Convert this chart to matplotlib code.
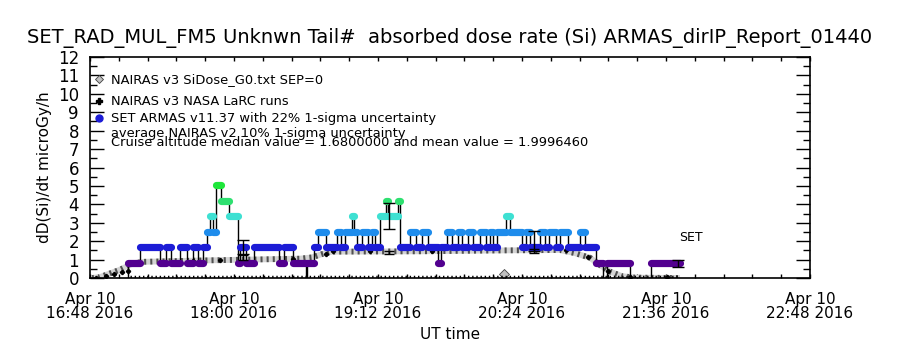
import numpy as np
import pandas as pd
import matplotlib
matplotlib.use("Agg")
import matplotlib.pyplot as plt
import matplotlib.dates as mdates

plt.rcParams['font.family'] = ['DejaVu Sans']

# flight start reference, all times below are minutes after 16:48 UT
t_ref = pd.Timestamp("2016-04-10 16:48")

# SET ARMAS dose rate, step series (edges in minutes, dose per step in microGy/h)
armas_edges = [18.5, 19, 25, 35, 38, 40.5, 45, 48.5, 51.5, 54, 56.5, 58.5, 60, 61.5, 63, 65.5,
               69.5, 74, 75, 78, 82, 94.5, 97, 101.5, 108, 108.5, 112, 114, 118, 123.5, 125.5,
               127.5, 131, 132, 133.5, 136, 139, 141, 142.5, 145, 148, 149, 154, 155, 160, 163,
               166, 169, 174, 175.5, 178.5, 181, 184, 186, 189, 191.5, 195, 198, 200, 201.5,
               203.5, 208, 210, 216, 218, 220, 225, 227.5, 229.5, 233, 235, 239, 245, 247.5,
               253, 256.5, 258.5, 270, 280.5, 295]
armas_dose = [0.0, 0.84, 1.68, 0.84, 1.68, 0.84, 1.68, 0.84, 1.68, 0.84, 1.68, 2.52, 3.36, 2.52,
              5.04, 4.2, 3.36, 0.84, 1.68, 0.84, 1.68, 0.84, 1.68, 0.84, 0.0, 0.84, 1.68, 2.52,
              1.68, 2.52, 1.68, 2.52, 3.36, 2.52, 1.68, 2.52, 1.68, 2.52, 1.68, 3.36, 4.2, 3.36,
              4.2, 1.68, 2.52, 1.68, 2.52, 1.68, 0.84, 1.68, 2.52, 1.68, 2.52, 1.68, 2.52, 1.68,
              2.52, 1.68, 2.52, 1.68, 2.52, 3.36, 2.52, 1.68, 2.52, 1.68, 2.52, 1.68, 2.52, 1.68,
              2.52, 1.68, 2.52, 1.68, 0.84, 0.0, 0.84, 0.0, 0.84]

# ARMAS 22% uncertainty bars
armas_err_t = [76.5, 149.5, 222, 294]
armas_err_lo = [1.3, 2.65, 1.45, 0.62]
armas_err_hi = [2.07, 4.1, 2.55, 1.0]

# NAIRAS v3 SiDose_G0 (SEP=0)
g0_t = [1, 5, 10, 15, 21.5, 27, 35, 55, 80, 105, 111, 116, 121, 165, 207.5, 235, 242.5, 250,
        255, 260, 266, 272.5, 295]
g0_v = [0.0, 0.05, 0.25, 0.45, 0.8, 0.88, 0.9, 0.95, 1.0, 1.05, 1.12, 1.3, 1.43, 1.45, 1.5,
        1.52, 1.35, 1.1, 0.7, 0.35, 0.1, 0.02, 0.0]
g0_out_t = [207]
g0_out_v = [0.2]

# NAIRAS v3 NASA LaRC runs
larc_t = [3, 8, 12, 16, 19, 42.5, 51.5, 65, 101.5, 118, 121.5, 140, 171, 238, 249, 259, 270, 288.5]
larc_v = [0.02, 0.12, 0.22, 0.32, 0.4, 0.88, 0.9, 0.97, 1.03, 1.28, 1.45, 1.45, 1.47, 1.5, 1.15,
          0.4, 0.05, 0.05]

# NAIRAS 10% uncertainty bars
nairas_err_t = [76.5, 149.5, 222]
nairas_err_lo = [0.98, 1.3, 1.35]
nairas_err_hi = [1.25, 1.45, 1.6]

# near-zero row along the flight
zero_t = [20, 295]
zero_v = [0.04, 0.04]

level_colors = {0.84: '#52008f', 1.68: '#1c1cd6', 2.52: '#1e8cec', 3.36: '#3ee0d2',
                4.2: '#2ee070', 5.04: '#1ee63a'}


def tm(mins):
    return [t_ref + pd.Timedelta(minutes=float(m)) for m in mins]


fig = plt.figure(figsize=(9, 3.5), dpi=100)
ax = fig.add_axes([0.1, 0.2057, 0.8, 0.6314])

# NAIRAS G0: checkered grey band
ax.plot(tm(g0_t), g0_v, color='#d4d4d4', lw=4.2, zorder=2, solid_capstyle='butt')
ax.plot(tm(g0_t), g0_v, color='#505050', lw=4.2, ls=(0, (0.35, 0.7)), zorder=2)
ax.plot(tm(g0_out_t), g0_out_v, ls='none', marker='D', ms=5, mfc='#c0c0c0', mec='#404040', mew=0.6)

# LaRC markers
ax.plot(tm(larc_t), larc_v, ls='none', marker='P', ms=2.8, color='black', zorder=3)

# dotted row near zero
ax.plot(tm(zero_t), zero_v, color='black', lw=2.5, ls=(0, (0.4, 0.8)), zorder=2)

# ARMAS black connecting line
xs = tm(np.repeat(armas_edges, 2)[1:-1])
ys = np.repeat(armas_dose, 2)
ax.plot(xs, ys, color='black', lw=1, zorder=3)

# ARMAS coloured points
for i, d in enumerate(armas_dose):
    if d <= 0:
        continue
    ax.plot(tm([armas_edges[i], armas_edges[i + 1]]), [d, d],
            color=level_colors[d], lw=5.2, solid_capstyle='round', zorder=4)

# uncertainty bars
for t, lo, hi in zip(armas_err_t, armas_err_lo, armas_err_hi):
    tt = tm([t])[0]
    ax.vlines(tt, lo, hi, color='black', lw=1, zorder=5)
    ax.plot([tt, tt], [lo, hi], ls='none', marker='_', ms=9, mew=1, color='black', zorder=5)
for t, lo, hi in zip(nairas_err_t, nairas_err_lo, nairas_err_hi):
    tt = tm([t])[0]
    ax.vlines(tt, lo, hi, color='black', lw=1, zorder=5)
    ax.plot([tt, tt], [lo, hi], ls='none', marker='_', ms=7, mew=1, color='black', zorder=5)

# axes
x0 = t_ref
x1 = t_ref + pd.Timedelta(hours=6)
ax.set_xlim(x0, x1)
ax.set_ylim(0, 12)
major = [t_ref + pd.Timedelta(minutes=72 * k) for k in range(6)]
minor = [t_ref + pd.Timedelta(minutes=14.4 * k) for k in range(26)]
ax.xaxis.set_major_locator(matplotlib.ticker.FixedLocator(mdates.date2num(major)))
ax.xaxis.set_minor_locator(matplotlib.ticker.FixedLocator(mdates.date2num(minor)))
ax.set_xticklabels([m.strftime('%b %d\n%H:%M %Y') for m in major], fontsize=11, linespacing=0.95)
ax.set_yticks(range(13))
ax.set_yticks(np.arange(0, 12.01, 0.5), minor=True)
ax.tick_params(axis='y', which='major', direction='in', length=10, width=1, labelsize=12,
               left=True, right=True, pad=8)
ax.tick_params(axis='y', which='minor', direction='in', length=5, width=1, left=True, right=True)
ax.tick_params(axis='x', which='both', direction='in', length=3, width=1, top=True, bottom=True,
               pad=10)
for s in ax.spines.values():
    s.set_linewidth(1.2)

ax.set_xlabel('UT time', fontsize=11, labelpad=4)
ax.set_ylabel('dD(Si)/dt microGy/h', fontsize=11, labelpad=4)
fig.text(0.5, 0.89, 'SET_RAD_MUL_FM5 Unknwn Tail#  absorbed dose rate (Si) ARMAS_dirIP_Report_01440',
         ha='center', va='center', fontsize=14)

# legend
tr = ax.transAxes
ax.plot([0.0125], [0.90], transform=tr, marker='D', ms=4.5, mfc='#c0c0c0', mec='#404040', mew=0.6,
        clip_on=False)
ax.plot([0.0125], [0.80], transform=tr, marker='P', ms=4, color='black', clip_on=False)
ax.plot([0.0125], [0.724], transform=tr, marker='o', ms=5, color='#1c1cd6', clip_on=False)
lx = 0.029
ax.text(lx, 0.90, 'NAIRAS v3 SiDose_G0.txt SEP=0', transform=tr, fontsize=9.4, va='center')
ax.text(lx, 0.80, 'NAIRAS v3 NASA LaRC runs', transform=tr, fontsize=9.4, va='center')
ax.text(lx, 0.724, 'SET ARMAS v11.37 with 22% 1-sigma uncertainty', transform=tr, fontsize=9.4,
        va='center')
ax.text(lx, 0.656, 'average NAIRAS v2 10% 1-sigma uncertainty', transform=tr, fontsize=9.4,
        va='center')
ax.text(lx, 0.611, 'Cruise altitude median value = 1.6800000 and mean value = 1.9996460',
        transform=tr, fontsize=9.4, va='center')
ax.text(tm([294.5])[0], 2.2, 'SET', fontsize=9, ha='left', va='center')

fig.savefig('out.png', dpi=100)
